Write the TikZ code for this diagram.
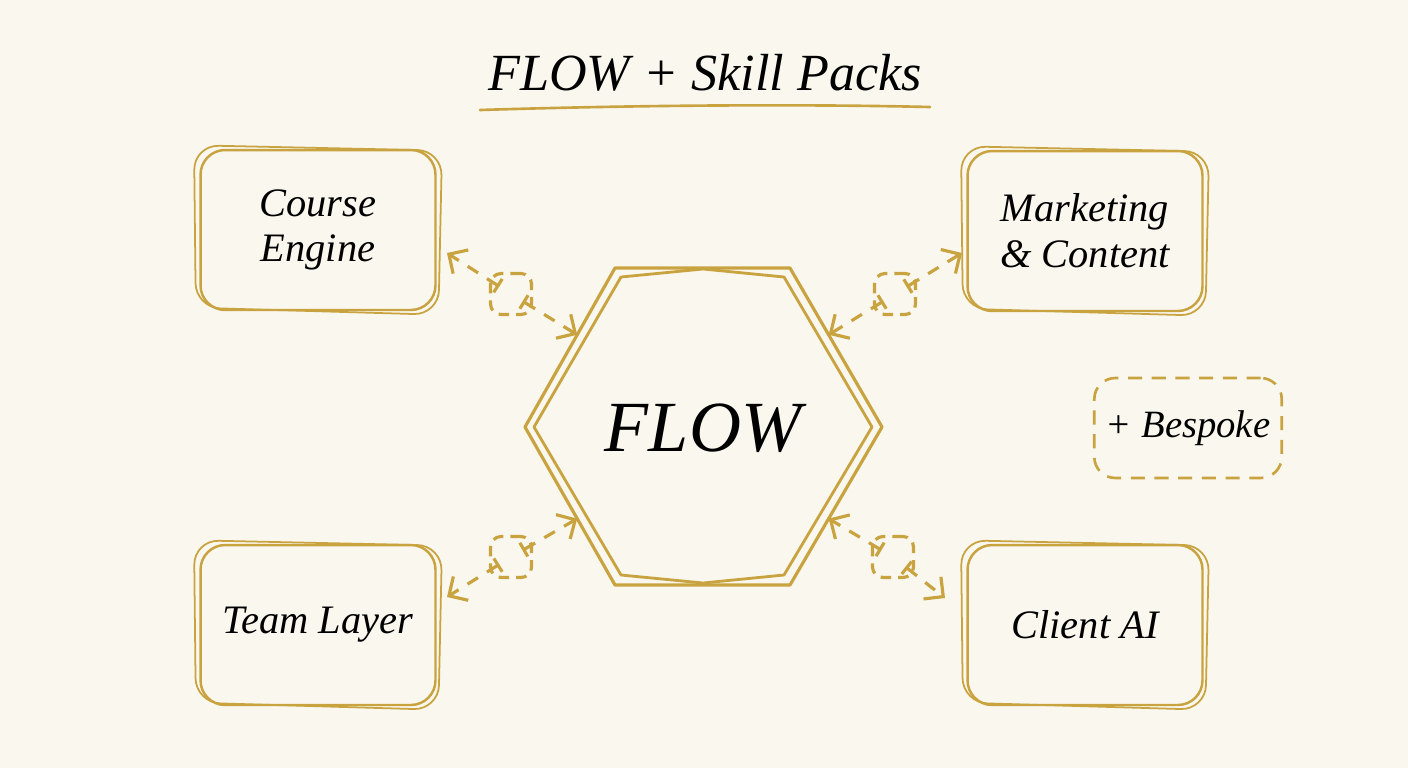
\documentclass[tikz,border=0pt]{standalone}
\usepackage{fontspec}
\setmainfont{Liberation Serif}
\usetikzlibrary{arrows.meta,positioning,calc}
\definecolor{paper}{HTML}{FAF7EE}
\definecolor{gold}{HTML}{C8A33F}
\tikzset{
    pack/.style={
        rectangle,
        rounded corners=14pt,
        draw=gold,
        line width=1.4pt,
        minimum width=4.7cm,
        minimum height=3.2cm,
        align=center,
        font=\fontsize{23}{26}\selectfont\itshape,
    },
    extra/.style={
        rectangle,
        rounded corners=12pt,
        draw=gold,
        line width=1.5pt,
        dash pattern=on 8pt off 5.5pt,
        minimum width=3.75cm,
        minimum height=2cm,
        font=\fontsize{22}{26}\selectfont\itshape,
    },
    piece/.style={
        rectangle,
        rounded corners=6pt,
        draw=gold,
        line width=1.8pt,
        dash pattern=on 6pt off 4pt,
        minimum size=0.82cm,
    },
    link/.style={
        draw=gold,
        line width=1.8pt,
        dash pattern=on 7pt off 6pt,
        shorten <=-7pt,
        {Bar[width=9pt]}-{Straight Barb[length=8pt,width=16pt]},
    },
    hexline/.style={
        draw=gold,
        line width=1.8pt,
        line join=round,
    },
    sketch/.style={
        draw=gold,
        line width=1pt,
        rounded corners=14pt,
    },
}

\begin{document}
\begin{tikzpicture}[x=0.02cm,y=-0.02cm]
    \fill[paper] (0,0) rectangle (1408,768);
    \useasboundingbox (0,0) rectangle (1408,768);

    % title
    \node (title) at (705,73) {\fontsize{29.7}{33}\selectfont\itshape FLOW + Skill Packs};
    \draw[gold,line width=1.5pt,line cap=round] (480,110) .. controls (640,105) and (800,104) .. (930,107);

    % hexagon
    \coordinate (h1) at (615,268);
    \coordinate (h2) at (790,268);
    \coordinate (h3) at (882,427);
    \coordinate (h4) at (790,585);
    \coordinate (h5) at (615,585);
    \coordinate (h6) at (525,427);
    \draw[hexline] (h1) -- (h2) -- (h3) -- (h4) -- (h5) -- (h6) -- cycle;
    \draw[hexline,line width=1.6pt] (621,277) -- (703,269) -- (784,277) -- (872,427) -- (784,575)
        -- (703,583) -- (621,575) -- (534,427) -- cycle;
    \node (flow) at (703,428) {\fontsize{41}{44}\selectfont\itshape FLOW};

    % packs
    \node[pack] (course) at (318,230) {Course\\Engine};
    \node[pack] (market) at (1085,231) {Marketing\\\& Content};
    \node[pack] (team) at (318,625) {Team Layer};
    \node[pack] (client) at (1085,625) {Client AI};
    \node[extra] (bespoke) at (1188,428) {+ Bespoke};

    \foreach \n in {course,market,team,client}
        \draw[sketch] ([shift={(-3pt,2pt)}]\n.north west) -- ([shift={(3pt,-1pt)}]\n.north east)
            -- ([shift={(1pt,-2pt)}]\n.south east) -- ([shift={(-2pt,2pt)}]\n.south west) -- cycle;

    % pieces
    \node[piece] (p1) at (511,294) {};
    \node[piece] (p2) at (895,294) {};
    \node[piece] (p3) at (511,557) {};
    \node[piece] (p4) at (893,557) {};

    \coordinate (c1) at (447,253);
    \coordinate (c2) at (962,253);
    \coordinate (c3) at (447,597);
    \coordinate (c4) at (945,598);
    \coordinate (e1) at ($(h1)!0.42!(h6)$);
    \coordinate (e2) at ($(h2)!0.42!(h3)$);
    \coordinate (e3) at ($(h5)!0.42!(h6)$);
    \coordinate (e4) at ($(h4)!0.42!(h3)$);

    \draw[link] (p1) -- (c1);
    \draw[link] (p1) -- (e1);
    \draw[link] (p2) -- (c2);
    \draw[link] (p2) -- (e2);
    \draw[link] (p3) -- (c3);
    \draw[link] (p3) -- (e3);
    \draw[link] (p4) -- (c4);
    \draw[link] (p4) -- (e4);
\end{tikzpicture}
\end{document}
